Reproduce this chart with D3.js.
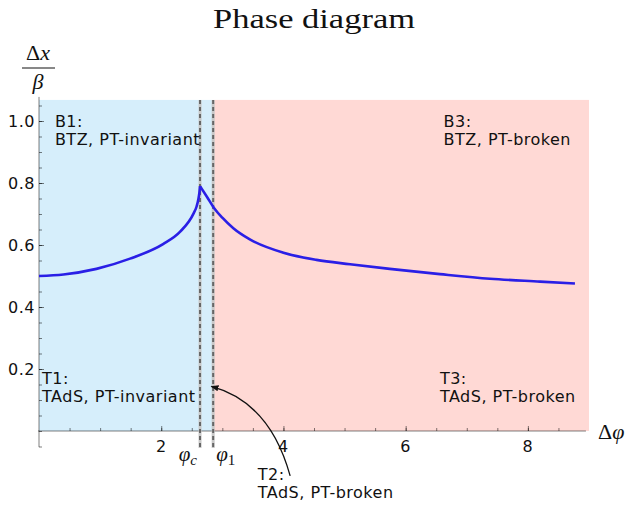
<!DOCTYPE html>
<html>
<head>
<meta charset="utf-8">
<script src="https://cdn.jsdelivr.net/npm/d3@7"></script>
<style>
  body { margin: 0; background: #fff; }
  .lbl { font-family: "DejaVu Sans", sans-serif; font-size: 16px; letter-spacing: 0.5px; fill: #111; }
  .tex { font-family: "Liberation Serif", "Times New Roman", serif; fill: #111; }
</style>
</head>
<body>
<svg id="chart"></svg>
<script>

// curve: left branch up to the cusp at phi_c, right branch after it
var phiLeft   = [0, 0.4, 0.94, 1.49, 2.03, 2.31, 2.53, 2.58, 2.61, 2.625, 2.635];
var ratioLeft = [0.5, 0.505, 0.523, 0.556, 0.603, 0.643, 0.702, 0.725, 0.75, 0.77, 0.79];
var phiRight   = [2.635, 2.75, 2.87, 3.0, 3.18, 3.45, 4.0, 4.54, 5.09, 5.74, 6.56, 7.38, 8.2, 8.77];
var ratioRight = [0.79, 0.755, 0.718, 0.688, 0.654, 0.618, 0.575, 0.552, 0.538, 0.523, 0.506, 0.491, 0.482, 0.476];

// critical values
var phiC = 2.635, phi1 = 2.85;

// ticks
var xTicks = [2, 4, 6, 8];
var yTicks = [0.2, 0.4, 0.6, 0.8, 1.0];

// region labels (data coords of first line baseline)
var regionNames = ["B1:", "B3:", "T1:", "T3:", "T2:"];
var regionTexts = ["BTZ, PT-invariant", "BTZ, PT-broken", "TAdS, PT-invariant", "TAdS, PT-broken", "TAdS, PT-broken"];
var regionX = [0.26, 6.62, 0.05, 6.56, 3.58];
var regionY = [0.98, 0.98, 0.152, 0.152, -0.158];

var W = 630, H = 506;
var svg = d3.select("#chart").attr("width", W).attr("height", H);

var x = d3.scaleLinear().domain([0, 9]).range([39, 589]);
var y = d3.scaleLinear().domain([0, 1]).range([431, 121]);
var yTop = 1.068;

// background regions
svg.append("rect")
    .attr("x", x(0)).attr("y", y(yTop))
    .attr("width", x(phi1) - x(0)).attr("height", y(0) - y(yTop))
    .style("fill", "#d6eefb");
svg.append("rect")
    .attr("x", x(phi1)).attr("y", y(yTop))
    .attr("width", x(9) - x(phi1)).attr("height", y(0) - y(yTop))
    .style("fill", "#ffd9d5");

// axes (mathematica style: ticks pointing inward)
var axisColor = "rgba(0,0,0,0.5)";
var gx = svg.append("g").attr("transform", "translate(0," + y(0) + ")")
    .call(d3.axisTop(x).tickValues(d3.range(0.5, 9, 0.5)).tickSize(3).tickFormat(""));
gx.select(".domain").remove();
gx.selectAll("line").attr("stroke", axisColor);
svg.append("g").attr("transform", "translate(0," + y(0) + ")")
    .call(d3.axisTop(x).tickValues(xTicks).tickSize(5).tickFormat(""))
    .call(function(g) { g.select(".domain").remove(); g.selectAll("line").attr("stroke", axisColor); });
svg.append("line")
    .attr("x1", x(0) - 1).attr("x2", x(8.95))
    .attr("y1", y(0)).attr("y2", y(0))
    .attr("stroke", axisColor);

var gy = svg.append("g").attr("transform", "translate(" + x(0) + ",0)")
    .call(d3.axisRight(y).tickValues(d3.range(-0.05, 1.06, 0.05)).tickSize(3).tickFormat(""));
gy.select(".domain").remove();
gy.selectAll("line").attr("stroke", axisColor);
svg.append("g").attr("transform", "translate(" + x(0) + ",0)")
    .call(d3.axisRight(y).tickValues(yTicks).tickSize(5).tickFormat(""))
    .call(function(g) { g.select(".domain").remove(); g.selectAll("line").attr("stroke", axisColor); });
svg.append("line")
    .attr("x1", x(0)).attr("x2", x(0))
    .attr("y1", y(yTop) - 3).attr("y2", y(-0.052))
    .attr("stroke", axisColor);

// tick labels
svg.selectAll(".xtl").data(xTicks).enter().append("text")
    .attr("class", "lbl")
    .attr("x", function(d) { return x(d); })
    .attr("y", y(0) + 21)
    .attr("text-anchor", "middle")
    .text(function(d) { return d; });
svg.selectAll(".ytl").data(yTicks).enter().append("text")
    .attr("class", "lbl")
    .attr("x", x(0) - 4)
    .attr("y", function(d) { return y(d) + 6; })
    .attr("text-anchor", "end")
    .text(function(d) { return d.toFixed(1); });

// dashed lines at phi_c and phi_1
[phiC, phi1].forEach(function(p) {
    svg.append("line")
        .attr("x1", x(p)).attr("x2", x(p))
        .attr("y1", y(yTop)).attr("y2", y(-0.055))
        .attr("stroke", "#c8c8c8").attr("stroke-width", 3);
    svg.append("line")
        .attr("x1", x(p)).attr("x2", x(p))
        .attr("y1", y(yTop)).attr("y2", y(-0.055))
        .attr("stroke", "#666").attr("stroke-width", 2)
        .attr("stroke-dasharray", "4,3");
});

// the curve
var line = d3.line()
    .x(function(d) { return x(d[0]); })
    .y(function(d) { return y(d[1]); })
    .curve(d3.curveMonotoneX);
var left = phiLeft.map(function(p, i) { return [p, ratioLeft[i]]; });
var right = phiRight.map(function(p, i) { return [p, ratioRight[i]]; });
[left, right].forEach(function(pts) {
    svg.append("path")
        .datum(pts)
        .attr("d", line)
        .attr("fill", "none")
        .attr("stroke", "#2a1fe6")
        .attr("stroke-width", 2.6)
        .attr("stroke-linejoin", "miter");
});

// region labels
regionNames.forEach(function(n, i) {
    var t = svg.append("text").attr("class", "lbl")
        .attr("x", x(regionX[i])).attr("y", y(regionY[i]));
    t.append("tspan").text(n);
    t.append("tspan").attr("x", x(regionX[i])).attr("dy", 18).text(regionTexts[i]);
});

// arrow from T2 label to the phi_c..phi_1 strip
svg.append("defs").append("marker")
    .attr("id", "ah").attr("viewBox", "0 0 10 10")
    .attr("refX", 9).attr("refY", 5)
    .attr("markerWidth", 8).attr("markerHeight", 8)
    .attr("markerUnits", "userSpaceOnUse")
    .attr("orient", "auto")
    .append("path").attr("d", "M0,1 L10,5 L0,9 Z").attr("fill", "#111");
var ap = d3.path();
ap.moveTo(x(4.11), y(-0.145));
ap.quadraticCurveTo(x(3.78), y(0.093), x(2.82), y(0.144));
svg.append("path")
    .attr("d", ap.toString())
    .attr("fill", "none")
    .attr("stroke", "#111")
    .attr("stroke-width", 1.3)
    .attr("marker-end", "url(#ah)");

// title
svg.append("text").attr("class", "tex")
    .attr("x", 314).attr("y", 28)
    .attr("text-anchor", "middle")
    .attr("textLength", 202).attr("lengthAdjust", "spacingAndGlyphs")
    .style("font-size", "27px")
    .text("Phase diagram");

// y label: fraction delta x over beta
var yl = svg.append("text").attr("class", "tex")
    .attr("x", 38).attr("y", 60).attr("text-anchor", "middle")
    .style("font-size", "22px");
yl.append("tspan").text("Δ");
yl.append("tspan").style("font-style", "italic").text("x");
svg.append("line")
    .attr("x1", 22).attr("x2", 55).attr("y1", 68).attr("y2", 68)
    .attr("stroke", "#111").attr("stroke-width", 1);
svg.append("text").attr("class", "tex")
    .attr("x", 38).attr("y", 89).attr("text-anchor", "middle")
    .style("font-size", "22px").style("font-style", "italic")
    .text("β");

// x label
var xl = svg.append("text").attr("class", "tex")
    .attr("x", 598).attr("y", 439)
    .style("font-size", "22px");
xl.append("tspan").text("Δ");
xl.append("tspan").style("font-style", "italic").text("φ");

// phi_c and phi_1 labels
var lc = svg.append("text").attr("class", "tex")
    .attr("x", x(phiC) - 3).attr("y", 461).attr("text-anchor", "end")
    .style("font-size", "21px");
lc.append("tspan").style("font-style", "italic").text("φ");
lc.append("tspan").style("font-style", "italic").style("font-size", "15px").attr("dy", 4).text("c");
var l1 = svg.append("text").attr("class", "tex")
    .attr("x", x(phi1) + 3).attr("y", 461)
    .style("font-size", "21px");
l1.append("tspan").style("font-style", "italic").text("φ");
l1.append("tspan").style("font-size", "15px").attr("dy", 4).text("1");

</script>
</body>
</html>
